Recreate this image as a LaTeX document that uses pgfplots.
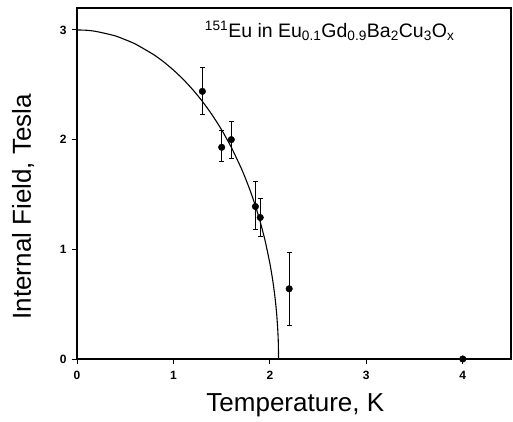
\documentclass[border=0pt]{standalone}
\usepackage{fontspec}
\setmainfont{Liberation Sans}
\usepackage{pgfplots}
\pgfplotsset{compat=1.18}

\begin{document}
\begin{tikzpicture}
\begin{axis}[
    scale only axis,
    width=434pt, height=351pt,
    xmin=0, xmax=4.5,
    ymin=0, ymax=3.2,
    xtick={0,1,2,3,4},
    ytick={0,1,2,3},
    tick align=outside,
    xtick pos=left, ytick pos=left,
    major tick length=5pt,
    axis line style={line width=1.1pt},
    tick style={line width=0.9pt, black},
    tick label style={font=\fontsize{12}{13}\selectfont\bfseries},
    xticklabel style={yshift=-4pt},
    yticklabel style={xshift=-2pt},
    /pgf/number format/assume math mode=true,
    clip=false,
    xlabel={Temperature, K},
    ylabel={Internal Field, Tesla},
    label style={font=\fontsize{26}{28}\selectfont},
    xlabel style={at={(axis description cs:0.503,-0.151)}, anchor=base},
    ylabel style={at={(axis description cs:-0.124,0.434)}, anchor=center},
]
\draw[line width=1.1pt] (rel axis cs:0,0) rectangle (rel axis cs:1,1);
\addplot[black, line width=1.1pt, smooth, tension=0.3] coordinates {
 (0,3) (0.1,2.997) (0.2,2.986) (0.4,2.945) (0.6,2.874) (0.8,2.772)
 (0.9,2.708) (1.0,2.634) (1.1,2.551) (1.2,2.456) (1.3,2.349) (1.4,2.227)
 (1.5,2.089) (1.6,1.930) (1.7,1.745) (1.75,1.640) (1.8,1.525) (1.85,1.396)
 (1.9,1.250) (1.95,1.080) (2.0,0.871) (2.03,0.714) (2.05,0.584)
 (2.06,0.506) (2.07,0.414) (2.08,0.293) (2.085,0.207) (2.088,0.131) (2.09,0)
};
\addplot[black, only marks, mark=*, mark size=3.3pt,
    error bars/.cd, y dir=both, y explicit,
    error bar style={line width=1pt},
    error mark options={rotate=90, mark size=2.5pt, line width=0.8pt}]
    table[x=T, y=B, y error plus=ep, y error minus=em] {
T    B     ep    em
1.3  2.44  0.22  0.21
1.5  1.93  0.15  0.13
1.6  2.00  0.17  0.17
1.85 1.39  0.23  0.21
1.9  1.29  0.17  0.17
2.2  0.64  0.33  0.33
4.0  0.00  0.00  0.00
};
\node[anchor=base west, inner sep=0pt, font=\fontsize{19.5}{20}\selectfont] at (axis cs:1.325,2.93)
  {\textsuperscript{151}Eu in Eu\textsubscript{0.1}Gd\textsubscript{0.9}Ba\textsubscript{2}Cu\textsubscript{3}O\textsubscript{x}};
\end{axis}
\pgfresetboundingbox
\path ([shift={(-77pt,-63pt)}]current axis.south west) rectangle ([shift={(2pt,8pt)}]current axis.north east);
\end{tikzpicture}
\end{document}
